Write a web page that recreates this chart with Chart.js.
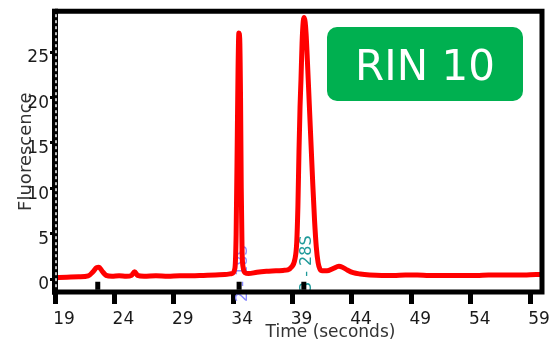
<!DOCTYPE html>
<html lang="en">
<head>
    <meta charset="UTF-8">
    <title>RIN 10 electropherogram</title>
    <style>
        body { margin: 0; background: #fff; }
        #wrap { width: 551px; height: 341px; }
    </style>
</head>
<body>
    <div id="wrap"><canvas id="trace"></canvas></div>
    <script src="https://cdn.jsdelivr.net/npm/chart.js"></script>
    <script>
        // trace (time in s, fluorescence units)
        const times = [19, 20, 21, 21.8, 22.2, 22.5, 22.7, 22.95, 23.3, 23.8, 24.4, 25.0, 25.45, 25.7, 25.95, 26.5, 27.5, 28.5, 29.5, 30.5,
            31.5, 32.5, 33.3, 33.9, 34.15, 34.25, 34.35, 34.41, 34.48, 34.55, 34.62, 34.68, 34.75, 34.85, 35.0, 35.3, 36.0, 36.8, 37.6, 38.2,
            38.6, 38.9, 39.2, 39.35, 39.45, 39.54, 39.63, 39.71, 39.8, 39.9, 39.98, 40.06, 40.14, 40.25, 40.4, 40.55, 40.7, 40.85, 41.0, 41.15,
            41.3, 41.5, 41.9, 42.4, 42.9, 43.2, 43.6, 44.1, 44.7, 45.5, 46.5, 47.5, 48.5, 49.5, 50.5, 51.5, 52.5, 53.5, 54.5, 55.5,
            56.5, 57.5, 58.5, 59.5, 60];
        const fluorescence = [0.15, 0.2, 0.25, 0.35, 0.8, 1.25, 1.3, 0.9, 0.4, 0.3, 0.35, 0.3, 0.4, 0.8, 0.4, 0.3, 0.35, 0.3, 0.35, 0.35,
            0.4, 0.45, 0.5, 0.6, 1.2, 5, 16, 23, 27.1, 26.5, 20, 10, 3, 1.2, 0.7, 0.6, 0.75, 0.85, 0.9, 0.95,
            1.0, 1.3, 2.2, 4, 8, 14, 19, 22, 26, 28.4, 28.8, 28.3, 27, 24, 19.5, 15, 10.5, 6.5, 3.5, 1.8,
            1.1, 0.9, 0.9, 1.15, 1.4, 1.3, 1.0, 0.7, 0.55, 0.45, 0.4, 0.4, 0.45, 0.45, 0.4, 0.4, 0.4, 0.4, 0.4, 0.45,
            0.45, 0.45, 0.45, 0.5, 0.5];

        // peak markers and labels
        const markerTimes = [22.6, 34.5, 39.95];
        const peakNames = ['2 - 18S', '3 - 28S'];
        const peakTimes = [34.78, 40.17];
        const peakLabelTops = [3.7, 4.8];

        const xTicks = [19, 24, 29, 34, 39, 44, 49, 54, 59];
        const yTicks = [0, 5, 10, 15, 20, 25];
        const rinLabel = 'RIN 10';

        const FONT = "'DejaVu Sans', Verdana, sans-serif";

        const peakText = {
            id: 'peakText',
            beforeDatasetsDraw(chart) {
                const ctx = chart.ctx, xs = chart.scales.x, ys = chart.scales.y;
                const colors = ['#8a8aff', '#1f9a9a'];
                ctx.save();
                ctx.font = '16px ' + FONT;
                ctx.textAlign = 'right';
                ctx.textBaseline = 'middle';
                peakNames.forEach((name, i) => {
                    ctx.save();
                    ctx.translate(xs.getPixelForValue(peakTimes[i]), ys.getPixelForValue(peakLabelTops[i]));
                    ctx.rotate(-Math.PI / 2);
                    ctx.fillStyle = colors[i];
                    ctx.fillText(name, 0, 0);
                    ctx.restore();
                });
                ctx.restore();
            }
        };

        const frame = {
            id: 'frame',
            afterDatasetsDraw(chart) {
                const ctx = chart.ctx, a = chart.chartArea;
                ctx.save();
                ctx.strokeStyle = '#000';
                ctx.lineWidth = 5;
                ctx.beginPath();
                ctx.moveTo(a.left, a.top);
                ctx.lineTo(a.right, a.top);
                ctx.lineTo(a.right, a.bottom);
                ctx.lineTo(a.left - 3, a.bottom);
                ctx.stroke();
                // left spine: solid black with a dotted white stripe
                ctx.fillStyle = '#000';
                ctx.fillRect(a.left - 3, a.top - 2.5, 6, a.bottom - a.top + 5);
                ctx.strokeStyle = '#fff';
                ctx.lineWidth = 1.5;
                ctx.setLineDash([3, 3]);
                ctx.beginPath();
                ctx.moveTo(a.left + 1, a.top + 3);
                ctx.lineTo(a.left + 1, a.bottom - 3);
                ctx.stroke();
                ctx.restore();
            },
            afterDraw(chart) {
                const ctx = chart.ctx, a = chart.chartArea;
                ctx.save();
                // RIN badge
                ctx.fillStyle = '#00b050';
                ctx.beginPath();
                ctx.roundRect(327, 27, 196, 74, 10);
                ctx.fill();
                ctx.fillStyle = '#fff';
                ctx.font = '42px ' + FONT;
                ctx.textAlign = 'center';
                ctx.textBaseline = 'alphabetic';
                ctx.fillText(rinLabel, 425, 80);
                // x axis title, sits right of centre in the original
                ctx.fillStyle = '#333';
                ctx.font = '17px ' + FONT;
                ctx.fillText('Time (seconds)', (a.left + a.right) / 2 + 32, 337);
                ctx.restore();
            }
        };

        new Chart(document.getElementById('trace'), {
            type: 'line',
            data: {
                datasets: [{
                    data: times.map((t, i) => ({ x: t, y: fluorescence[i] })),
                    borderColor: '#ff0000',
                    borderWidth: 5,
                    pointRadius: 0,
                    cubicInterpolationMode: 'monotone',
                    borderJoinStyle: 'round',
                    borderCapStyle: 'round'
                }, {
                    data: markerTimes.map(t => ({ x: t, y: -0.75 })),
                    showLine: false,
                    pointStyle: 'line',
                    rotation: 90,
                    pointRadius: 4,
                    pointBorderWidth: 5,
                    pointBorderColor: '#000'
                }]
            },
            options: {
                responsive: true,
                maintainAspectRatio: false,
                animation: false,
                layout: { padding: { top: 10, right: 6, left: 0, bottom: 0 } },
                plugins: { legend: { display: false }, tooltip: { enabled: false } },
                scales: {
                    x: {
                        type: 'linear',
                        min: 19,
                        max: 60,
                        afterBuildTicks: s => { s.ticks = xTicks.map(v => ({ value: v })); },
                        afterFit: s => { s.height = 49; },
                        border: { display: false },
                        grid: { drawOnChartArea: false, tickLength: 12, tickWidth: 5, tickColor: '#000' },
                        ticks: { font: { family: FONT, size: 17 }, color: '#1a1a1a', padding: 5, labelOffset: 9, maxRotation: 0 }
                    },
                    y: {
                        min: -1.43,
                        max: 29.5,
                        afterBuildTicks: s => { s.ticks = yTicks.map(v => ({ value: v })); },
                        afterFit: s => { s.width = 55; },
                        border: { display: false },
                        grid: { drawOnChartArea: false, tickLength: 5, tickWidth: 3, tickColor: '#000' },
                        ticks: { font: { family: FONT, size: 17 }, color: '#1a1a1a', padding: 1, labelOffset: 6 },
                        title: { display: true, text: 'Fluorescence', font: { family: FONT, size: 18 }, color: '#333', padding: { top: 16 } }
                    }
                }
            },
            plugins: [peakText, frame]
        });
    </script>
</body>
</html>
